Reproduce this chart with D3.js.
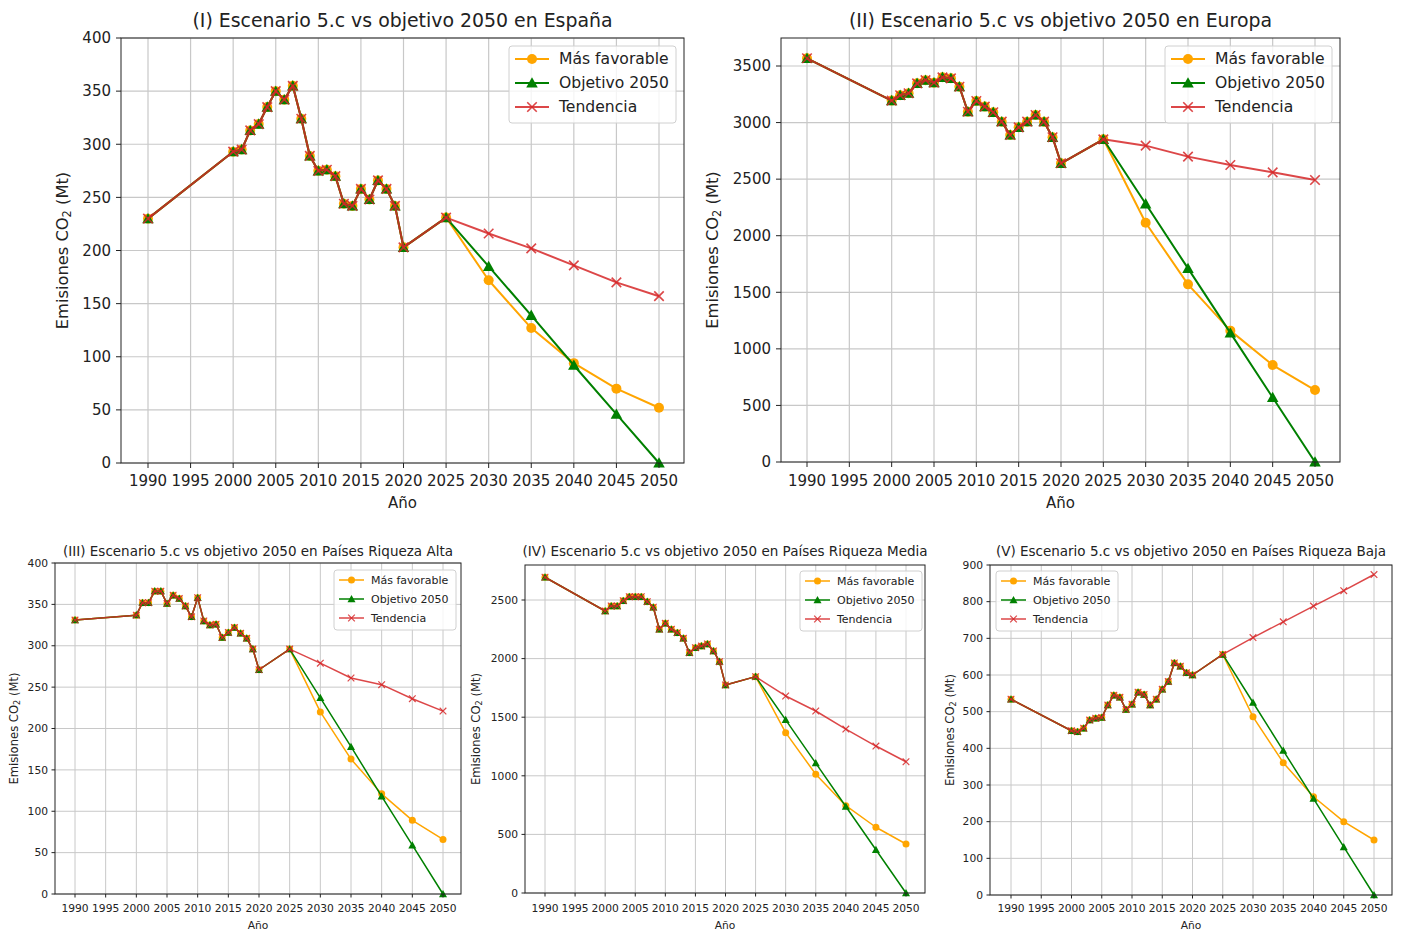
<!DOCTYPE html>
<html>
<head>
<meta charset="utf-8">
<title>Escenario 5.c vs objetivo 2050</title>
<script src="https://d3js.org/d3.v7.min.js"></script>
<style>
    body { margin: 0; background: #ffffff; }
    svg { display: block; font-family: "DejaVu Sans", sans-serif; }
</style>
</head>
<body>
<svg id="chart" width="1405" height="934"></svg>
<script>
// years shared by all panels: history (shared by the three series) then projection
const histYears = [1990, 2000, 2001, 2002, 2003, 2004, 2005, 2006, 2007, 2008, 2009, 2010,
    2011, 2012, 2013, 2014, 2015, 2016, 2017, 2018, 2019, 2020, 2025];
const futureYears = [2030, 2035, 2040, 2045, 2050];
const xTicks = [1990, 1995, 2000, 2005, 2010, 2015, 2020, 2025, 2030, 2035, 2040, 2045, 2050];
const seriesNames = ["Más favorable", "Objetivo 2050", "Tendencia"];

// (I) España
const espanaHist = [230, 293, 295, 313, 319, 335, 350, 342, 355, 324, 289, 275, 276, 270, 244, 242, 258, 248, 266, 258, 242, 203, 231];
const espanaFav = [172, 127, 94, 70, 52];
const espanaObj = [185, 139, 92, 46, 0];
const espanaTend = [216, 202, 186, 170, 157];

// (II) Europa
const europaHist = [3568, 3194, 3241, 3259, 3347, 3375, 3353, 3400, 3391, 3317, 3096, 3191, 3141, 3091, 3008, 2890, 2958, 3008, 3067, 3008, 2870, 2640, 2852];
const europaFav = [2115, 1570, 1161, 857, 636];
const europaObj = [2282, 1711, 1141, 570, 0];
const europaTend = [2796, 2699, 2625, 2560, 2492];

// (III) Países Riqueza Alta
const altaHist = [331, 337, 352, 352, 366, 366, 351, 361, 357, 348, 335, 358, 330, 325, 326, 310, 316, 322, 315, 309, 296, 271, 296];
const altaFav = [220, 163, 121, 89, 66];
const altaObj = [237, 178, 118, 59, 0];
const altaTend = [279, 261, 253, 236, 221];

// (IV) Países Riqueza Media
const mediaHist = [2694, 2406, 2449, 2449, 2494, 2528, 2528, 2528, 2486, 2438, 2250, 2301, 2250, 2221, 2173, 2050, 2093, 2107, 2125, 2065, 1974, 1775, 1846];
const mediaFav = [1368, 1013, 745, 561, 418];
const mediaObj = [1477, 1108, 738, 369, 0];
const mediaTend = [1681, 1553, 1399, 1254, 1120];

// (V) Países Riqueza Baja
const bajaHist = [534, 448, 445, 455, 477, 482, 484, 518, 545, 539, 506, 520, 553, 547, 518, 534, 561, 582, 633, 624, 606, 600, 656];
const bajaFav = [486, 361, 268, 200, 150];
const bajaObj = [525, 394, 263, 131, 0];
const bajaTend = [702, 745, 788, 830, 874];

const colors = ["orange", "green", "#d62728"];
const opac = [1, 1, 0.85];
const symbols = ["circle", "triangle", "x"];

// two sizes, the top row was exported bigger than the bottom row
const big = { font: 15, title: 18.9, ylab: 16.3, legFont: 15.6, lw: 2, mr: 5, tick: 5, grid: 1.2, pad: 10,
    leg: { w: 167, h: 77, row: 24, first: 13, hx0: 6, hx1: 40, tx: 50 } };
const small = { font: 10.7, title: 13.5, ylab: 11.6, legFont: 11, lw: 1.5, mr: 3.5, tick: 3.5, grid: 1, pad: 7,
    leg: { w: 122, h: 60, row: 19, first: 10, hx0: 5, hx1: 30, tx: 37 } };

const panels = [
    { title: "(I) Escenario 5.c vs objetivo 2050 en España", hist: espanaHist, fav: espanaFav, obj: espanaObj, tend: espanaTend,
      st: big, left: 121, right: 684, top: 38, bottom: 463, x0: 148, x1: 659, y0: 463, yRef: 38, vRef: 400,
      yTicks: d3.range(0, 401, 50), ylx: 62, titleY: 27, tickY: 486, labY: 508, legX: 509, legY: 46 },
    { title: "(II) Escenario 5.c vs objetivo 2050 en Europa", hist: europaHist, fav: europaFav, obj: europaObj, tend: europaTend,
      st: big, left: 781, right: 1340, top: 38, bottom: 462, x0: 807, x1: 1315, y0: 462, yRef: 66, vRef: 3500,
      yTicks: d3.range(0, 3501, 500), ylx: 712, titleY: 27, tickY: 486, labY: 508, legX: 1165, legY: 46 },
    { title: "(III) Escenario 5.c vs objetivo 2050 en Países Riqueza Alta", hist: altaHist, fav: altaFav, obj: altaObj, tend: altaTend,
      st: small, left: 55, right: 461, top: 563, bottom: 894, x0: 75, x1: 443, y0: 894, yRef: 563, vRef: 400,
      yTicks: d3.range(0, 401, 50), ylx: 14, titleY: 556, tickY: 912, labY: 929, legX: 334, legY: 570 },
    { title: "(IV) Escenario 5.c vs objetivo 2050 en Países Riqueza Media", hist: mediaHist, fav: mediaFav, obj: mediaObj, tend: mediaTend,
      st: small, left: 525, right: 925, top: 565, bottom: 893, x0: 545, x1: 906, y0: 893, yRef: 600, vRef: 2500,
      yTicks: d3.range(0, 2501, 500), ylx: 476, titleY: 556, tickY: 912, labY: 929, legX: 800, legY: 571 },
    { title: "(V) Escenario 5.c vs objetivo 2050 en Países Riqueza Baja", hist: bajaHist, fav: bajaFav, obj: bajaObj, tend: bajaTend,
      st: small, left: 990, right: 1392, top: 565, bottom: 895, x0: 1011, x1: 1374, y0: 895, yRef: 565, vRef: 900,
      yTicks: d3.range(0, 901, 100), ylx: 950, titleY: 556, tickY: 912, labY: 929, legX: 996, legY: 571 }
];

const svg = d3.select("#chart");

function marker(g, i, cx, cy, r, st) {
    const type = symbols[i], color = colors[i];
    if (type === "circle") {
        g.append("circle").attr("cx", cx).attr("cy", cy).attr("r", r).attr("fill", color);
    } else if (type === "triangle") {
        const s = r * 1.15;
        g.append("path")
            .attr("d", `M${cx},${cy - s}L${cx + s},${cy + s * 0.8}L${cx - s},${cy + s * 0.8}Z`)
            .attr("fill", color);
    } else {
        const s = r * 0.95;
        g.append("path")
            .attr("d", `M${cx - s},${cy - s}L${cx + s},${cy + s}M${cx - s},${cy + s}L${cx + s},${cy - s}`)
            .attr("stroke", color).attr("stroke-opacity", opac[i])
            .attr("stroke-width", st.lw * 0.8).attr("fill", "none");
    }
}

function drawPanel(p) {
    const st = p.st;
    const g = svg.append("g");
    const x = d3.scaleLinear().domain([1990, 2050]).range([p.x0, p.x1]);
    const y = d3.scaleLinear().domain([0, p.vRef]).range([p.y0, p.yRef]);

    // grid
    g.selectAll(".vg").data(xTicks).enter().append("line")
        .attr("x1", d => x(d)).attr("x2", d => x(d)).attr("y1", p.top).attr("y2", p.bottom)
        .attr("stroke", "#c8c8c8").attr("stroke-width", st.grid);
    g.selectAll(".hg").data(p.yTicks).enter().append("line")
        .attr("x1", p.left).attr("x2", p.right).attr("y1", d => y(d)).attr("y2", d => y(d))
        .attr("stroke", "#c8c8c8").attr("stroke-width", st.grid);

    // series: orange under green under red
    const clip = "clip" + p.left;
    svg.append("clipPath").attr("id", clip).append("rect")
        .attr("x", p.left - 8).attr("y", p.top - 8).attr("width", p.right - p.left + 16).attr("height", p.bottom - p.top + 16);
    const plot = g.append("g").attr("clip-path", `url(#${clip})`);
    const line = d3.line().x(d => x(d[0])).y(d => y(d[1]));
    const proj = [p.fav, p.obj, p.tend];
    proj.forEach((vals, i) => {
        const pts = histYears.map((yr, j) => [yr, p.hist[j]])
            .concat(futureYears.map((yr, j) => [yr, vals[j]]));
        plot.append("path").datum(pts).attr("d", line)
            .attr("fill", "none").attr("stroke", colors[i]).attr("stroke-opacity", opac[i])
            .attr("stroke-width", st.lw).attr("stroke-linejoin", "round");
        pts.forEach(d => marker(plot, i, x(d[0]), y(d[1]), st.mr, st));
    });

    // frame
    g.append("rect").attr("x", p.left).attr("y", p.top)
        .attr("width", p.right - p.left).attr("height", p.bottom - p.top)
        .attr("fill", "none").attr("stroke", "#222").attr("stroke-width", 1);

    // ticks
    g.selectAll(".xt").data(xTicks).enter().append("line")
        .attr("x1", d => x(d)).attr("x2", d => x(d)).attr("y1", p.bottom).attr("y2", p.bottom + st.tick)
        .attr("stroke", "#222");
    g.selectAll(".xl").data(xTicks).enter().append("text")
        .attr("x", d => x(d)).attr("y", p.tickY).attr("text-anchor", "middle")
        .attr("font-size", st.font).attr("fill", "#222").text(d => d);
    g.selectAll(".yt").data(p.yTicks).enter().append("line")
        .attr("x1", p.left - st.tick).attr("x2", p.left).attr("y1", d => y(d)).attr("y2", d => y(d))
        .attr("stroke", "#222");
    g.selectAll(".yl").data(p.yTicks).enter().append("text")
        .attr("x", p.left - st.pad).attr("y", d => y(d)).attr("dy", "0.35em").attr("text-anchor", "end")
        .attr("font-size", st.font).attr("fill", "#222").text(d => d);

    // labels
    const cx = (p.left + p.right) / 2;
    g.append("text").attr("x", cx).attr("y", p.titleY).attr("text-anchor", "middle")
        .attr("font-size", st.title).attr("fill", "#222").text(p.title);
    g.append("text").attr("x", cx).attr("y", p.labY).attr("text-anchor", "middle")
        .attr("font-size", st.font).attr("fill", "#222").text("Año");
    const cy = (p.top + p.bottom) / 2;
    const yl = g.append("text").attr("transform", `translate(${p.ylx},${cy}) rotate(-90)`)
        .attr("text-anchor", "middle").attr("dy", "0.35em")
        .attr("font-size", st.ylab).attr("fill", "#222");
    yl.append("tspan").text("Emisiones CO");
    yl.append("tspan").attr("font-size", st.ylab * 0.7).attr("dy", "0.25em").text("2");
    yl.append("tspan").attr("dy", "-0.18em").text(" (Mt)");

    // legend
    const L = st.leg;
    const lg = g.append("g").attr("transform", `translate(${p.legX},${p.legY})`);
    lg.append("rect").attr("width", L.w).attr("height", L.h).attr("rx", 3)
        .attr("fill", "white").attr("fill-opacity", 0.8).attr("stroke", "#d0d0d0");
    seriesNames.forEach((name, i) => {
        const ry = L.first + i * L.row;
        lg.append("line").attr("x1", L.hx0).attr("x2", L.hx1).attr("y1", ry).attr("y2", ry)
            .attr("stroke", colors[i]).attr("stroke-opacity", opac[i]).attr("stroke-width", st.lw);
        marker(lg, i, (L.hx0 + L.hx1) / 2, ry, st.mr, st);
        lg.append("text").attr("x", L.tx).attr("y", ry).attr("dy", "0.35em")
            .attr("font-size", st.legFont).attr("fill", "#222").text(name);
    });
}

panels.forEach(drawPanel);
</script>
</body>
</html>
